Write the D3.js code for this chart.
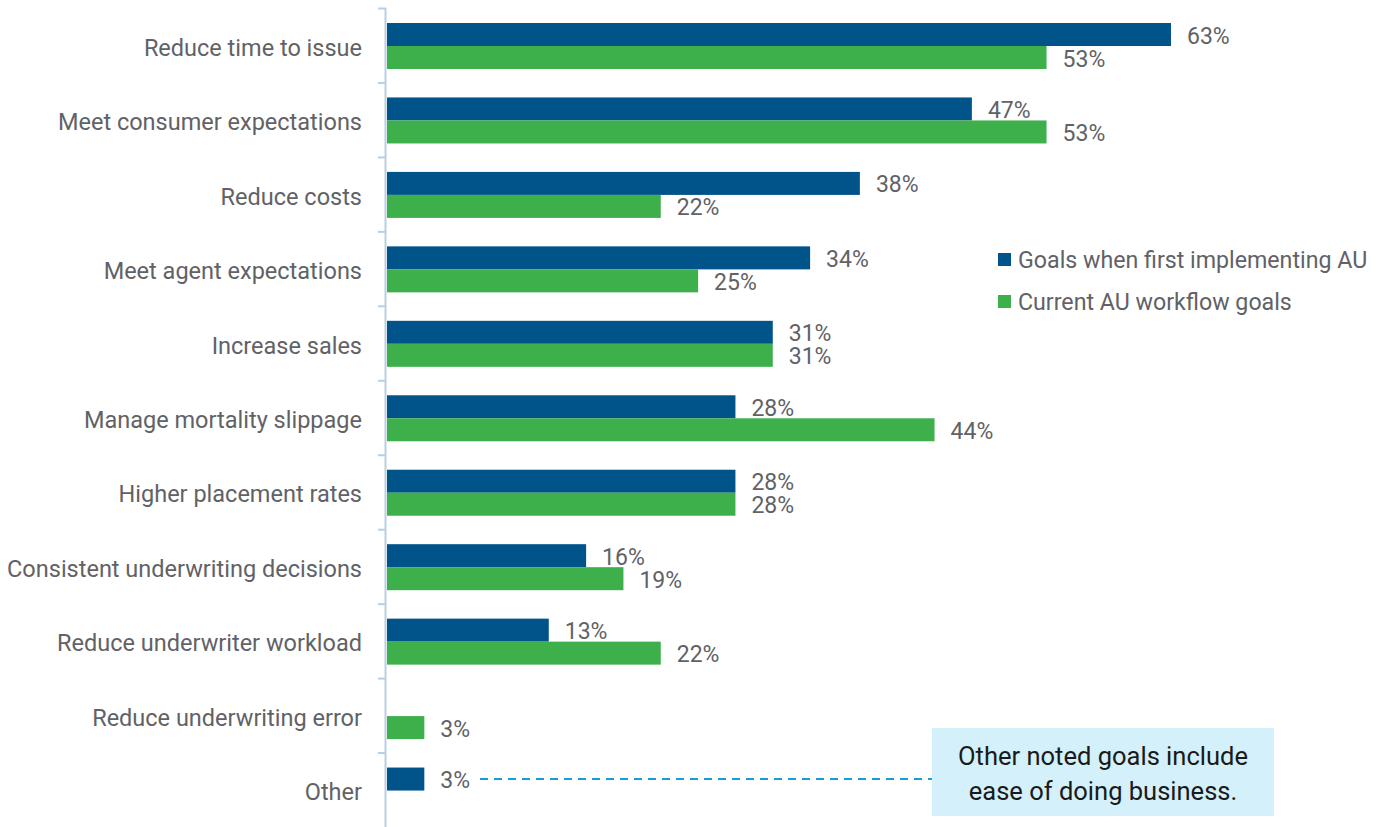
<!DOCTYPE html>
<html>
<head>
<meta charset="utf-8">
<script src="https://cdn.jsdelivr.net/npm/d3@7"></script>
<style>
  html, body { margin: 0; padding: 0; background: #ffffff; }
  svg { display: block; }
  text { font-family: Roboto, "Noto Sans", sans-serif; }
</style>
</head>
<body>
<svg id="chart" width="1391" height="827"></svg>
<script>
// Goals for automated underwriting, share of respondents (%)
const categories = [
  "Reduce time to issue",
  "Meet consumer expectations",
  "Reduce costs",
  "Meet agent expectations",
  "Increase sales",
  "Manage mortality slippage",
  "Higher placement rates",
  "Consistent underwriting decisions",
  "Reduce underwriter workload",
  "Reduce underwriting error",
  "Other"
];
const seriesNames = ["Goals when first implementing AU", "Current AU workflow goals"];
const initialGoals = [63, 47, 38, 34, 31, 28, 28, 16, 13, null, 3];
const currentGoals = [53, 53, 22, 25, 31, 44, 28, 19, 22, 3, null];
const seriesColors = ["#00548a", "#3eb04b"];
const noteLines = ["Other noted goals include", "ease of doing business."];

const svg = d3.select("#chart");

const y = d3.scaleBand().domain(categories).range([8, 827]);
const ySeries = d3.scaleBand().domain(seriesNames).range([15, 61]);
const x = d3.scaleLinear().domain([0, 70]).range([387, 1258.1]);
const color = d3.scaleOrdinal().domain(seriesNames).range(seriesColors);

const labelColor = "#616266";

// Category axis: vertical rule plus short ticks at band boundaries
const axisColor = "#b9cfe1";
svg.append("line")
  .attr("x1", 385.5).attr("x2", 385.5)
  .attr("y1", y.range()[0]).attr("y2", y.range()[1])
  .attr("stroke", axisColor).attr("stroke-width", 2);

svg.selectAll("line.tick")
  .data(categories)
  .join("line")
  .attr("class", "tick")
  .attr("x1", 378).attr("x2", 386)
  .attr("y1", d => y(d) + 0.5).attr("y2", d => y(d) + 0.5)
  .attr("stroke", axisColor).attr("stroke-width", 2);

svg.selectAll("text.cat")
  .data(categories)
  .join("text")
  .attr("class", "cat")
  .attr("x", 362)
  .attr("y", d => y(d) + y.bandwidth() / 2 + 10.5)
  .attr("text-anchor", "end")
  .attr("font-size", 23.5)
  .attr("fill", labelColor)
  .text(d => d);

// Bars
const rows = [];
categories.forEach((c, i) => {
  [initialGoals, currentGoals].forEach((vals, s) => {
    if (vals[i] != null) rows.push({ cat: c, series: seriesNames[s], value: vals[i] });
  });
});

svg.selectAll("rect.bar")
  .data(rows)
  .join("rect")
  .attr("class", "bar")
  .attr("x", x(0))
  .attr("y", d => y(d.cat) + ySeries(d.series))
  .attr("width", d => x(d.value) - x(0))
  .attr("height", ySeries.bandwidth())
  .attr("fill", d => color(d.series));

svg.selectAll("text.val")
  .data(rows)
  .join("text")
  .attr("class", "val")
  .attr("x", d => x(d.value) + 16)
  .attr("y", d => y(d.cat) + ySeries(d.series) + ySeries.bandwidth() / 2 + 9)
  .attr("font-size", 23)
  .attr("fill", labelColor)
  .text(d => d.value + "%");

// Legend
const legend = svg.selectAll("g.legend")
  .data(seriesNames)
  .join("g")
  .attr("class", "legend")
  .attr("transform", (d, i) => `translate(998, ${253 + i * 42})`);
legend.append("rect")
  .attr("width", 13).attr("height", 13)
  .attr("fill", d => color(d));
legend.append("text")
  .attr("x", 20).attr("y", 15)
  .attr("font-size", 23.2)
  .attr("fill", labelColor)
  .text(d => d);

// Note callout tied to "Other"
const otherY = y("Other") + ySeries(seriesNames[0]) + ySeries.bandwidth() / 2;
svg.append("line")
  .attr("x1", 480).attr("x2", 932)
  .attr("y1", otherY).attr("y2", otherY)
  .attr("stroke", "#1b9bd7").attr("stroke-width", 2)
  .attr("stroke-dasharray", "8,6");

svg.append("rect")
  .attr("x", 932).attr("y", 728)
  .attr("width", 342).attr("height", 88)
  .attr("fill", "#d3f0fb");

svg.selectAll("text.note")
  .data(noteLines)
  .join("text")
  .attr("class", "note")
  .attr("x", 1103)
  .attr("y", (d, i) => 765 + i * 35)
  .attr("text-anchor", "middle")
  .attr("font-size", 25.5)
  .attr("fill", "#1a1a1a")
  .text(d => d);
</script>
</body>
</html>
